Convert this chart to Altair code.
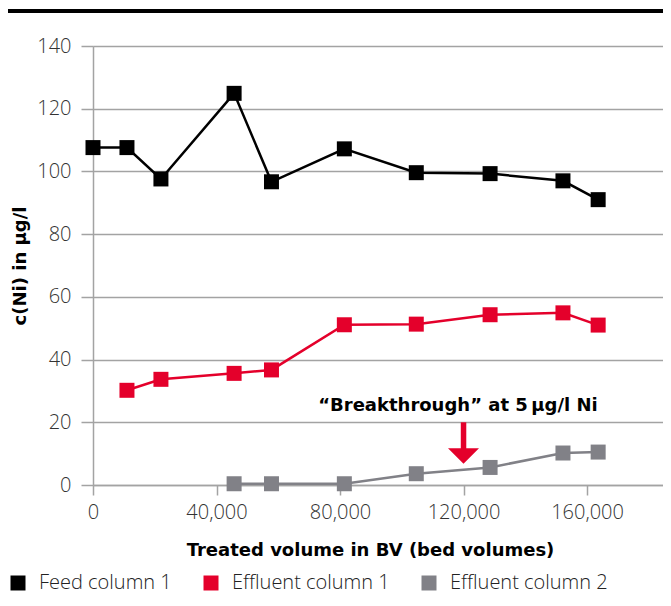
import altair as alt
import pandas as pd

# ---- data ----
series_names = ["Feed column 1", "Effluent column 1", "Effluent column 2"]
series_colors = ["#000000", "#e4002b", "#818187"]

feed_bv = [0, 11000, 22000, 45700, 57800, 81400, 104700, 128600, 152200, 163600]
feed_ni = [107.6, 107.6, 97.6, 124.9, 96.7, 107.2, 99.6, 99.3, 97.0, 91.0]

eff1_bv = [11000, 22000, 45700, 57800, 81400, 104700, 128600, 152200, 163600]
eff1_ni = [30.2, 33.7, 35.6, 36.7, 51.1, 51.3, 54.3, 54.9, 51.0]

eff2_bv = [45700, 57800, 81400, 104700, 128600, 152200, 163600]
eff2_ni = [0.4, 0.4, 0.4, 3.6, 5.6, 10.2, 10.5]

x_ticks = [0, 40000, 80000, 120000, 160000]
y_ticks = [0, 20, 40, 60, 80, 100, 120, 140]

annotation_text = ["\u201cBreakthrough\u201d at 5\u2009\u00b5g/l Ni"]
annotation_bv = [118200]
annotation_ni = [23.5]
arrow_bv = [120000]
arrow_top = [20.0]
arrow_shaft_end = [11.0]
arrow_head_ni = [9.25]

x_title = "Treated volume in BV (bed volumes)"
y_title = "c(Ni) in \u00b5g/l"

# ---- build table ----
rows = []
for name, xs, ys in zip(series_names, [feed_bv, eff1_bv, eff2_bv], [feed_ni, eff1_ni, eff2_ni]):
    for xv, yv in zip(xs, ys):
        rows.append({"series": name, "bv": xv, "ni": yv})
df = pd.DataFrame(rows)

W, H = 570, 439
GRID = "#a3a3a3"
RED = series_colors[1]

x_scale = alt.Scale(domain=[0, 184600], nice=False, zero=False)
y_scale = alt.Scale(domain=[0, 140], nice=False)
color_scale = alt.Scale(domain=series_names, range=series_colors)

x_axis = alt.Axis(
    values=x_ticks, format=",d", grid=False, domain=True, domainColor=GRID, domainWidth=1.5,
    ticks=True, tickSize=10, tickColor=GRID, tickWidth=1.5,
    labelFont="Open Sans", labelFontWeight=300, labelFontSize=20, labelColor="#333333",
    labelPadding=7, labelFlush=False,
    title=x_title, titleFont="DejaVu Sans", titleFontWeight="bold", titleFontSize=18,
    titleColor="#000000", titleX=277, titleY=70, titleBaseline="alphabetic", titleAlign="center",
)
y_axis = alt.Axis(
    values=y_ticks, grid=True, gridColor=GRID, gridWidth=1.5,
    domain=True, domainColor=GRID, domainWidth=1.5,
    ticks=True, tickSize=12, tickColor=GRID, tickWidth=1.5,
    labelFont="Open Sans", labelFontWeight=300, labelFontSize=20, labelColor="#333333",
    labelPadding=10,
    title=y_title, titleFont="DejaVu Sans", titleFontWeight="bold", titleFontSize=18,
    titleColor="#000000", titleX=-73, titleY=H / 2, titleAngle=270,
    titleAlign="center", titleBaseline="middle",
)

legend = alt.Legend(
    title=None, orient="none", legendX=-85, legendY=527, direction="horizontal",
    symbolType="square", symbolSize=225, symbolStrokeWidth=0, symbolOpacity=1,
    labelFont="Open Sans", labelFontWeight=300, labelFontSize=20, labelColor="#222222",
    labelOffset=11, columnPadding=29, padding=0, labelLimit=300,
)

base = alt.Chart(df)

lines = base.mark_line(strokeWidth=2.5).encode(
    x=alt.X("bv:Q", scale=x_scale, axis=x_axis),
    y=alt.Y("ni:Q", scale=y_scale, axis=y_axis),
    color=alt.Color("series:N", scale=color_scale, legend=legend),
    detail="series:N",
)

points = base.mark_point(shape="square", size=225, filled=True, opacity=1, strokeWidth=0).encode(
    x=alt.X("bv:Q", scale=x_scale),
    y=alt.Y("ni:Q", scale=y_scale),
    color=alt.Color("series:N", scale=color_scale, legend=legend),
)

ann_df = pd.DataFrame({
    "text": annotation_text, "bv": annotation_bv, "ni": annotation_ni,
})
arrow_df = pd.DataFrame({
    "bv": arrow_bv, "top": arrow_top, "end": arrow_shaft_end, "head": arrow_head_ni,
})

annotation = alt.Chart(ann_df).mark_text(
    font="DejaVu Sans", fontWeight="bold", fontSize=18, color="#000000",
    align="center", baseline="alphabetic",
).encode(
    x=alt.X("bv:Q", scale=x_scale), y=alt.Y("ni:Q", scale=y_scale), text="text:N"
)

shaft = alt.Chart(arrow_df).mark_rule(color=RED, strokeWidth=5.5).encode(
    x=alt.X("bv:Q", scale=x_scale), y=alt.Y("top:Q", scale=y_scale), y2="end:Q"
)
head = alt.Chart(arrow_df).mark_point(
    shape="M-1,-0.5L1,-0.5L0,0.5Z", size=961, filled=True, opacity=1,
    color=RED, strokeWidth=0,
).encode(
    x=alt.X("bv:Q", scale=x_scale), y=alt.Y("head:Q", scale=y_scale)
)

top_rule = alt.Chart(pd.DataFrame({"k": [0]})).mark_rule(color="#000000", strokeWidth=4).encode(
    x=alt.value(-85), x2=alt.value(W), y=alt.value(-35)
)

chart = alt.layer(top_rule, lines, points, shaft, head, annotation).properties(
    width=W, height=H,
    autosize=alt.AutoSizeParams(type="none"),
    padding={"left": 85, "top": 38, "right": 0, "bottom": 112},
).configure_view(stroke=None).configure(background="white")

chart.save("out.html", embed_options={"renderer": "svg", "actions": False})
